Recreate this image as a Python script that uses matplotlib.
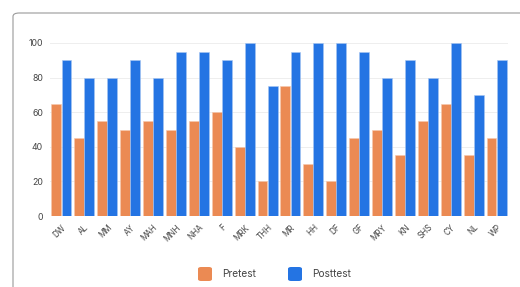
import matplotlib
matplotlib.use("Agg")
import matplotlib.pyplot as plt
import numpy as np
from matplotlib.patches import FancyBboxPatch

categories = ["DW", "AL", "MM", "AY", "MAH", "MNH", "NHA", "F", "MRK", "THH",
              "MR", "HH", "DF", "GF", "MRY", "KN", "SHS", "CY", "NL", "WP"]
pretest = [65, 45, 55, 50, 55, 50, 55, 60, 40, 20, 75, 30, 20, 45, 50, 35, 55, 65, 35, 45]
posttest = [90, 80, 80, 90, 80, 95, 95, 90, 100, 75, 95, 100, 100, 95, 80, 90, 80, 100, 70, 90]
yticks = [0, 20, 40, 60, 80, 100]

plt.rcParams['font.family'] = ['Inter', 'DejaVu Sans']
orange = "#EB8A53"
blue = "#2474E3"

fig = plt.figure(figsize=(5.2, 2.87), dpi=100)
# card border
card = FancyBboxPatch((13/520, 1-300/287), 600/520, (300-13)/287,
                      boxstyle="round,pad=0,rounding_size=0.012",
                      transform=fig.transFigure, facecolor="white",
                      edgecolor="#9a9a9a", linewidth=0.8, zorder=-10)
fig.patches.append(card)

ax = fig.add_axes([50/520, 1-216/287, 458/520, 173/287])
ax.set_zorder(5)
ax.set_facecolor("none")
x = np.arange(len(categories))
w = 0.43
ax.bar(x - w/2 - 0.005, pretest, w, color=orange, edgecolor="#f6c8ae", linewidth=0.4, zorder=3)
ax.bar(x + w/2 + 0.005, posttest, w, color=blue, edgecolor="#a8c6f2", linewidth=0.4, zorder=3)
ax.set_xlim(-0.5, len(categories) - 0.5)
ax.set_ylim(0, 100)
ax.set_yticks(yticks)
ax.set_yticklabels([str(v) for v in yticks], fontsize=6.3, color="#444444")
ax.set_xticks(x)
ax.set_xticklabels(categories, rotation=45, ha="right", rotation_mode="anchor",
                   fontsize=5.8, color="#444444")
ax.tick_params(axis="y", length=0, pad=5)
ax.tick_params(axis="x", length=0, pad=5)
ax.grid(axis="y", color="#eeeeee", linewidth=0.7, zorder=0)
for s in ax.spines.values():
    s.set_visible(False)

# legend
for xs, label, c in [(198, "Pretest", orange), (288, "Posttest", blue)]:
    fig.patches.append(FancyBboxPatch((xs/520, 1-281/287), 14/520, 14/287,
                                      boxstyle="round,pad=0,rounding_size=0.006",
                                      transform=fig.transFigure, facecolor=c,
                                      edgecolor="none", zorder=6))
    fig.text((xs+24)/520, 1-274/287, label, fontsize=7.3, color="#444444",
             va="center", ha="left")

fig.savefig("out.png", dpi=100)
